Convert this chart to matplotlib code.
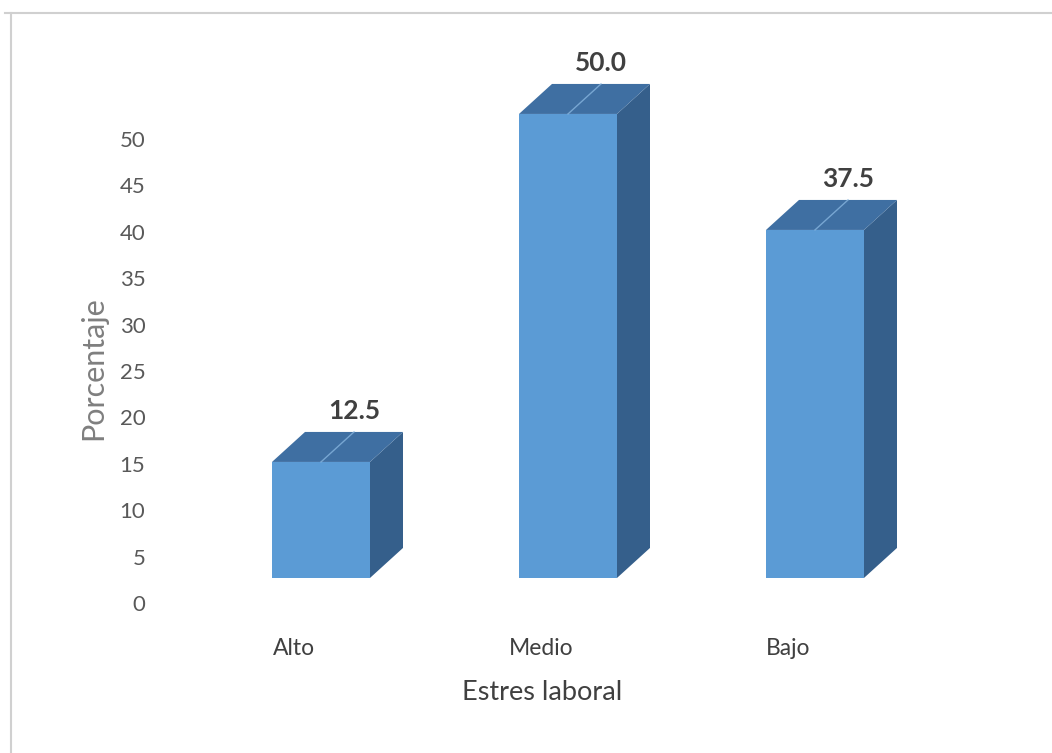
import numpy as np
import matplotlib
matplotlib.use("Agg")
import matplotlib.pyplot as plt
from matplotlib.patches import Polygon
from matplotlib.lines import Line2D

categories = ["Alto", "Medio", "Bajo"]
values = [12.5, 50.0, 37.5]
yticks = [0, 5, 10, 15, 20, 25, 30, 35, 40, 45, 50]

plt.rcParams['font.family'] = ['Lato', 'DejaVu Sans']

front_col = "#5b9bd5"
top_col = "#3f6fa2"
side_col = "#355f8b"
edge_hi = "#86b4de"

W, H = 1052, 753
fig = plt.figure(figsize=(W / 100, H / 100), dpi=100)

# axes: y=0 at pixel 603, 9.28 px per unit; x: 247 px per category
ax_l, ax_r = 155, 1020
ax_b, ax_t = 603, 30
ppu_y = 9.28
ppu_x = 247.0
x0 = 321.0
ax = fig.add_axes([ax_l / W, (H - ax_b) / H, (ax_r - ax_l) / W, (ax_b - ax_t) / H])
ax.set_xlim(-(x0 - ax_l) / ppu_x, (ax_r - x0) / ppu_x)
ax.set_ylim(0, (ax_b - ax_t) / ppu_y)

base = 2.7            # floor offset of the 3d bars
bw = 98 / ppu_x       # front face width
dx = 33 / ppu_x       # depth offset
dy = 30 / ppu_y

x = np.arange(len(categories))
for xi, v in zip(x, values):
    l, r = xi - bw / 2, xi + bw / 2
    b, t = base, base + v
    ax.add_patch(Polygon([(r, b), (r + dx, b + dy), (r + dx, t + dy), (r, t)],
                         closed=True, fc=side_col, ec="none"))
    ax.add_patch(Polygon([(l, t), (r, t), (r + dx, t + dy), (l + dx, t + dy)],
                         closed=True, fc=top_col, ec="none"))
    ax.add_patch(Polygon([(l, b), (r, b), (r, t), (l, t)],
                         closed=True, fc=front_col, ec="none"))
    ax.add_line(Line2D([xi, xi + dx], [t, t + dy], color=edge_hi, lw=1.0, alpha=0.8))
    ax.text(xi + dx, t + dy + 2.3, f"{v:.1f}", ha="center", va="center",
            fontsize=19, fontweight="bold", color="#404040")

ax.set_yticks(yticks)
ax.set_yticklabels([str(t) for t in yticks], fontsize=16, color="#595959")
ax.set_xticks(x - 0.108)
ax.set_xticklabels(categories, fontsize=16.5, color="#404040")
ax.tick_params(axis="y", length=0, pad=7)
ax.tick_params(axis="x", length=0, pad=25)
for s in ax.spines.values():
    s.set_visible(False)

ax.set_xlabel("Estres laboral", fontsize=19.5, color="#404040")
ax.xaxis.set_label_coords((542 - ax_l) / (ax_r - ax_l), -(693 - ax_b) / (ax_b - ax_t))
ax.xaxis.label.set_va("center")
fig.text(93 / W, 1 - 368 / H, "Porcentaje", rotation=90, ha="center", va="center",
         fontsize=22, color="#7f7f7f")

# chart-area border (top and left only visible)
fig.add_artist(Line2D([5 / W, 1], [1 - 12.5 / H, 1 - 12.5 / H], color="#d0d0d0", lw=1.5))
fig.add_artist(Line2D([10.5 / W, 10.5 / W], [0, 1 - 12.5 / H], color="#d0d0d0", lw=1.5))

fig.savefig("out.png", dpi=100)
